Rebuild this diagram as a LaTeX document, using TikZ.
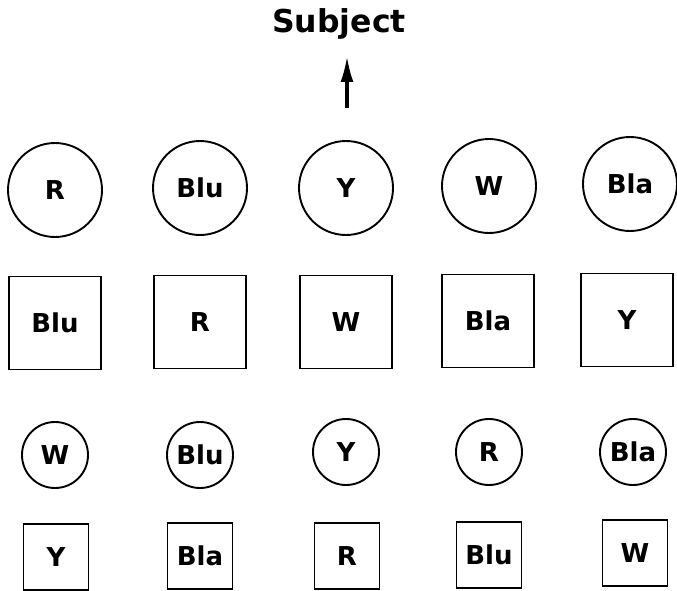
\documentclass[tikz,border=0pt]{standalone}
\usepackage{fontspec}
\setmainfont{DejaVu Sans}[BoldFont={DejaVu Sans Bold}]
\usetikzlibrary{arrows.meta}
\begin{document}
\begin{tikzpicture}[x=1pt,y=-1pt,
  lab/.style={font=\bfseries\fontsize{26}{28}\selectfont, inner sep=0pt},
  bigc/.style={lab, draw, circle, line width=1.9pt, minimum size=94pt},
  bigs/.style={lab, draw, rectangle, line width=1.9pt, minimum width=92pt, minimum height=93pt},
  smc/.style={lab, draw, circle, line width=1.9pt, minimum size=66pt},
  sms/.style={lab, draw, rectangle, line width=1.9pt, minimum width=65pt, minimum height=66pt}]
\useasboundingbox (0,0) rectangle (677,591);
\node[font=\bfseries\fontsize{31.5}{33}\selectfont, inner sep=0pt, anchor=base] (subj) at (339,33) {Subject};
\coordinate (atail) at (347,108);
\coordinate (ahead) at (347,56);
\draw[line width=3.2pt, -{Latex[length=26pt,width=13pt]}] (atail) -- (ahead);
% row 1
\node[bigc] (c1) at (55,190) {R};
\node[bigc] (c2) at (200,188) {Blu};
\node[bigc] (c3) at (346,188) {Y};
\node[bigc] (c4) at (489,186) {W};
\node[bigc] (c5) at (630,184) {Bla};
% row 2
\node[bigs] (s1) at (55,323) {Blu};
\node[bigs] (s2) at (200,322) {R};
\node[bigs] (s3) at (346,322) {W};
\node[bigs] (s4) at (488,321) {Bla};
\node[bigs] (s5) at (627,320) {Y};
% row 3
\node[smc] (d1) at (55,455) {W};
\node[smc] (d2) at (200,455) {Blu};
\node[smc] (d3) at (346,452) {Y};
\node[smc] (d4) at (489,452) {R};
\node[smc] (d5) at (633,452) {Bla};
% row 4
\node[sms] (q1) at (56,557) {Y};
\node[sms] (q2) at (200,556) {Bla};
\node[sms] (q3) at (347,556) {R};
\node[sms] (q4) at (489,555) {Blu};
\node[sms] (q5) at (635,553) {W};
\end{tikzpicture}
\end{document}
